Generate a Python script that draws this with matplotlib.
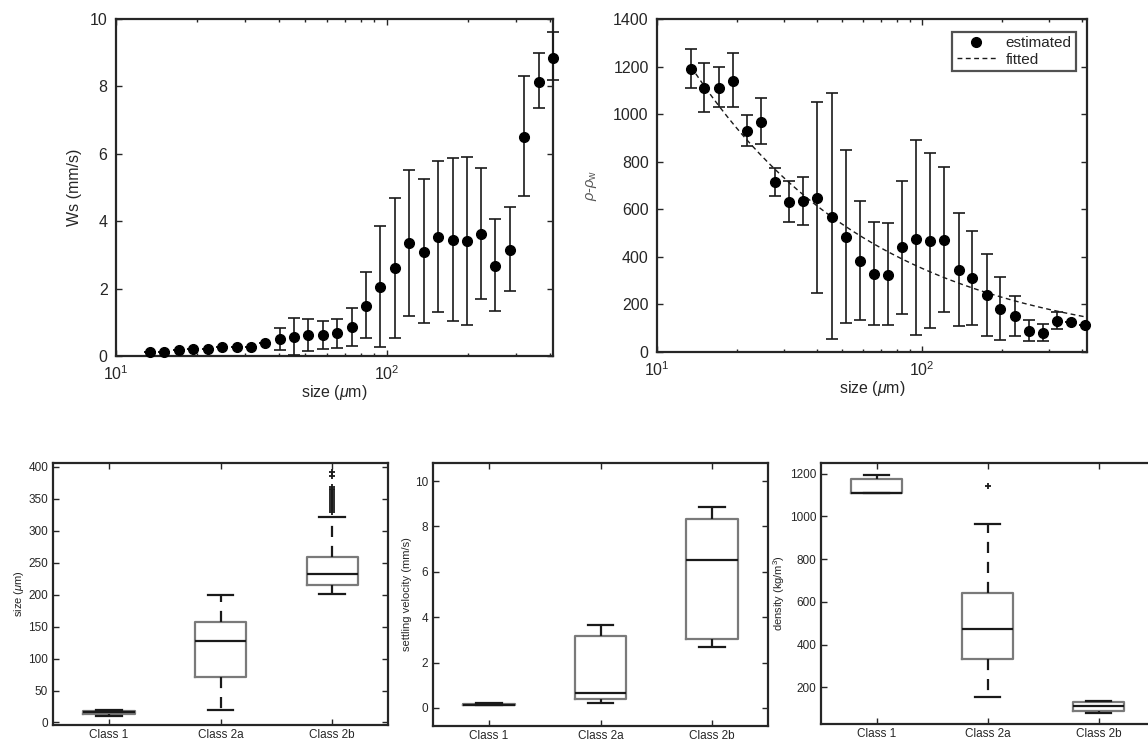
import numpy as np
import matplotlib
matplotlib.use("Agg")
import matplotlib.pyplot as plt
from matplotlib.ticker import LogLocator, NullFormatter
from matplotlib.lines import Line2D

plt.rcParams['font.family'] = ['Liberation Sans', 'DejaVu Sans']
plt.rcParams['mathtext.fontset'] = 'custom'
plt.rcParams['mathtext.rm'] = 'Liberation Sans'
plt.rcParams['mathtext.it'] = 'Liberation Sans:italic'

# ---------------- data ----------------
sizes = [13.4, 15.1, 17.1, 19.3, 21.8, 24.7, 27.9, 31.5, 35.6, 40.2, 45.5, 51.4,
         58.1, 65.6, 74.2, 83.8, 94.7, 107, 121, 137, 154, 175, 197, 223, 252,
         285, 322, 364, 411]

ws = [0.13, 0.13, 0.17, 0.20, 0.20, 0.28, 0.27, 0.28, 0.39, 0.49, 0.57, 0.61,
      0.61, 0.67, 0.85, 1.49, 2.06, 2.60, 3.34, 3.08, 3.54, 3.44, 3.40, 3.62,
      2.68, 3.16, 6.50, 8.12, 8.84]
ws_lo = [0.13, 0.13, 0.17, 0.20, 0.20, 0.28, 0.27, 0.28, 0.39, 0.17, 0.02, 0.15,
         0.22, 0.25, 0.30, 0.53, 0.27, 0.53, 1.18, 0.98, 1.30, 1.04, 0.92, 1.69,
         1.34, 1.93, 4.76, 7.36, 8.18]
ws_hi = [0.13, 0.13, 0.17, 0.20, 0.20, 0.28, 0.27, 0.28, 0.39, 0.83, 1.13, 1.09,
         1.03, 1.10, 1.43, 2.48, 3.86, 4.69, 5.52, 5.24, 5.80, 5.88, 5.89, 5.59,
         4.06, 4.42, 8.31, 8.98, 9.60]

rho = [1190, 1109, 1110, 1140, 928, 967, 713, 629, 634, 648, 568, 483, 382, 326,
       325, 440, 476, 466, 470, 343, 309, 238, 179, 150, 88, 80, 129, 125, 115]
rho_lo = [1108, 1007, 1028, 1028, 868, 874, 655, 546, 532, 250, 55, 122, 136, 114,
          112, 160, 70, 101, 168, 109, 115, 69, 50, 69, 45, 48, 97, 125, 115]
rho_hi = [1275, 1213, 1199, 1257, 995, 1066, 775, 717, 737, 1053, 1088, 848, 634,
          546, 542, 720, 890, 835, 777, 584, 508, 410, 315, 236, 136, 117, 167,
          125, 115]

# fitted power law  (rho - rho_w) = a * D^b
fit_a = 5882.0
fit_b = -0.612
fit_range = (14.0, 420.0)

classes = ["Class 1", "Class 2a", "Class 2b"]

# box statistics: (whislo, q1, med, q3, whishi)
size_stats = [(10, 13, 17, 18.5, 20), (20, 71, 127, 157, 200), (201, 215, 232, 259, 322)]
size_fliers = [[], [], [330, 333, 336, 339, 342, 345, 348, 351, 354, 357, 360, 363,
                    366, 369, 386, 392]]
vel_stats = [(0.12, 0.13, 0.13, 0.17, 0.20), (0.20, 0.38, 0.67, 3.16, 3.64),
             (2.68, 3.05, 6.52, 8.35, 8.88)]
vel_fliers = [[], [], []]
dens_stats = [(1109, 1110, 1110, 1175, 1192), (153, 330, 472, 639, 966),
              (80, 90, 114, 129, 134)]
dens_fliers = [[], [1142], []]

# ---------------- style helpers ----------------
SPINE = '#262626'
TXT = '#262626'


def style_axes(ax, lab_size):
    for s in ax.spines.values():
        s.set_color(SPINE)
        s.set_linewidth(1.6)
    ax.tick_params(which='both', direction='in', top=True, right=True,
                   colors=SPINE, labelcolor=TXT, labelsize=lab_size, width=1.0)
    ax.tick_params(which='major', length=4.5)
    ax.tick_params(which='minor', length=2.5)


fig = plt.figure(figsize=(11.48, 7.44), dpi=100)

# ---------------- top-left: Ws ----------------
ax1 = fig.add_axes([0.1010, 0.5215, 0.3807, 0.4530])
x = np.array(sizes)
y = np.array(ws)
ax1.errorbar(x, y, yerr=[y - np.array(ws_lo), np.array(ws_hi) - y], fmt='o',
             color='black', ecolor='#1a1a1a', elinewidth=1.2, capsize=4.5,
             capthick=1.2, markersize=7, clip_on=False, zorder=3)
ax1.set_xscale('log')
ax1.set_xlim(10, 411)
ax1.set_ylim(0, 10)
ax1.set_yticks([0, 2, 4, 6, 8, 10])
ax1.xaxis.set_major_locator(LogLocator(base=10, numticks=5))
ax1.xaxis.set_minor_locator(LogLocator(base=10, subs=np.arange(2, 10), numticks=20))
ax1.xaxis.set_minor_formatter(NullFormatter())
style_axes(ax1, 11.5)
ax1.tick_params(axis='x', which='both', pad=6)
ax1.tick_params(axis='y', pad=6)
ax1.set_xlabel(r'size ($\mu$m)', fontsize=11.5, color=TXT, labelpad=0)
ax1.set_ylabel('Ws (mm/s)', fontsize=11.5, color=TXT, labelpad=6)

# ---------------- top-right: density vs size ----------------
ax2 = fig.add_axes([0.5723, 0.5269, 0.3746, 0.4476])
r = np.array(rho)
ax2.errorbar(x, r, yerr=[r - np.array(rho_lo), np.array(rho_hi) - r], fmt='o',
             color='black', ecolor='#1a1a1a', elinewidth=1.2, capsize=4.5,
             capthick=1.2, markersize=7, clip_on=False, zorder=3)
xf = np.geomspace(fit_range[0], fit_range[1], 200)
ax2.plot(xf, fit_a * xf ** fit_b, linestyle=(0, (3.5, 2.5)), color='#1a1a1a',
         linewidth=1.0, zorder=2)
ax2.set_xscale('log')
ax2.set_xlim(10, 418)
ax2.set_ylim(0, 1400)
ax2.set_yticks(np.arange(0, 1401, 200))
ax2.xaxis.set_major_locator(LogLocator(base=10, numticks=5))
ax2.xaxis.set_minor_locator(LogLocator(base=10, subs=np.arange(2, 10), numticks=20))
ax2.xaxis.set_minor_formatter(NullFormatter())
style_axes(ax2, 11.5)
ax2.tick_params(axis='x', which='both', pad=6)
ax2.tick_params(axis='y', pad=6)
ax2.set_xlabel(r'size ($\mu$m)', fontsize=11.5, color=TXT, labelpad=0)
ax2.set_ylabel(r'$\rho$-$\rho_{\mathrm{w}}$', fontsize=10.5, color='#555555',
               labelpad=10)
handles = [Line2D([], [], marker='o', color='black', linestyle='none', markersize=7),
           Line2D([], [], color='#1a1a1a', linestyle=(0, (3.5, 2.5)), linewidth=1.0)]
leg = ax2.legend(handles, ['estimated', 'fitted'], loc='upper right', fontsize=11,
                 frameon=True, fancybox=False, borderpad=0.3, handlelength=2.6,
                 handletextpad=0.6, labelspacing=0.15, borderaxespad=0.3,
                 bbox_to_anchor=(0.985, 0.975))
leg.get_frame().set_edgecolor(SPINE)
leg.get_frame().set_linewidth(1.6)
for t in leg.get_texts():
    t.set_color(TXT)


# ---------------- bottom: boxplots ----------------
def make_stats(stats, fliers):
    out = []
    for (lo, q1, med, q3, hi), fl in zip(stats, fliers):
        out.append(dict(whislo=lo, q1=q1, med=med, q3=q3, whishi=hi, fliers=fl))
    return out


def draw_box(ax, stats, fliers, ylim, yticks, ylabel):
    ax.bxp(make_stats(stats, fliers), positions=[1, 2, 3], widths=0.46,
           boxprops=dict(color='#7a7a7a', linewidth=1.6),
           medianprops=dict(color='#1a1a1a', linewidth=1.6),
           whiskerprops=dict(color='#1a1a1a', linewidth=1.6,
                             linestyle=(0, (5, 4))),
           capprops=dict(color='#1a1a1a', linewidth=1.6),
           flierprops=dict(marker='+', markeredgecolor='#1a1a1a',
                           markersize=5, markeredgewidth=1.3),
           capwidths=0.23)
    ax.set_xlim(0.5, 3.5)
    ax.set_ylim(*ylim)
    ax.set_yticks(yticks)
    ax.set_xticks([1, 2, 3])
    ax.set_xticklabels(classes)
    style_axes(ax, 8.5)
    ax.tick_params(axis='x', pad=3)
    ax.set_ylabel(ylabel, fontsize=8, color=TXT, labelpad=2)


ax3 = fig.add_axes([0.0462, 0.0255, 0.2918, 0.3522])
draw_box(ax3, size_stats, size_fliers, (-4, 406), np.arange(0, 401, 50),
         r'size ($\mu$m)')

ax4 = fig.add_axes([0.3772, 0.0242, 0.2918, 0.3535])
draw_box(ax4, vel_stats, vel_fliers, (-0.8, 10.8), [0, 2, 4, 6, 8, 10],
         'settling velocity (mm/s)')

ax5 = fig.add_axes([0.7152, 0.0269, 0.2901, 0.3508])
draw_box(ax5, dens_stats, dens_fliers, (28, 1250), np.arange(200, 1201, 200),
         r'density (kg/m$^{3}$)')

fig.savefig('out.png', dpi=100)
